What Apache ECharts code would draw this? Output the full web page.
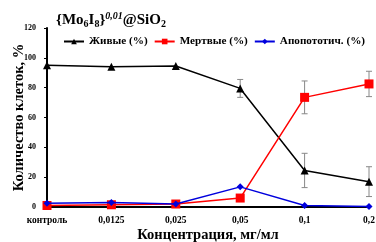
<!DOCTYPE html>
<html>
<head>
<meta charset="utf-8">
<script src="https://cdn.jsdelivr.net/npm/echarts@6/dist/echarts.min.js"></script>
<style>html,body{margin:0;padding:0;background:#fff}#c{width:376px;height:242px}</style>
</head>
<body>
<div id="c"></div>
<script>
var categories = ['контроль', '0,0125', '0,025', '0,05', '0,1', '0,2'];
var live = [95, 94, 94.5, 79.5, 24.5, 17];
var liveErr = [0, 0, 0, 6, 11.5, 10];
var dead = [1, 1.5, 2, 6, 73.5, 82.5];
var deadErr = [0, 0, 0, 0, 11, 8.5];
var apopt = [2.5, 3, 2, 13.5, 1, 0.3];
var yTicks = [0, 20, 40, 60, 80, 100, 120];

var chart = echarts.init(document.getElementById('c'));
var font = 'Liberation Serif';

// усы погрешностей
function errSeries(vals, errs) {
  var d = [];
  for (var i = 0; i < vals.length; i++) {
    if (errs[i] > 0) d.push([i, vals[i] - errs[i], vals[i] + errs[i]]);
  }
  return {
    type: 'custom',
    z: 1,
    silent: true,
    data: d,
    renderItem: function (params, api) {
      var lo = api.coord([api.value(0), api.value(1)]);
      var hi = api.coord([api.value(0), api.value(2)]);
      var w = 3;
      var st = { stroke: '#888', lineWidth: 1 };
      return {
        type: 'group',
        children: [
          { type: 'line', shape: { x1: lo[0], y1: lo[1], x2: hi[0], y2: hi[1] }, style: st },
          { type: 'line', shape: { x1: lo[0] - w, y1: lo[1], x2: lo[0] + w, y2: lo[1] }, style: st },
          { type: 'line', shape: { x1: hi[0] - w, y1: hi[1], x2: hi[0] + w, y2: hi[1] }, style: st }
        ]
      };
    }
  };
}

var option = {
  animation: false,
  textStyle: { fontFamily: font, fontWeight: 'bold', color: '#000' },
  title: {
    text: '{a|{Mo}{s|6}{a|I}{s|8}}{p|0,01}{a|@SiO}{s|2}',
    left: 51, top: 6,
    textStyle: {
      fontFamily: font, fontWeight: 'bold', fontSize: 15, color: '#000',
      rich: {
        a: { fontFamily: font, fontWeight: 'bold', fontSize: 15, color: '#000' },
        s: { fontFamily: font, fontWeight: 'bold', fontSize: 10, color: '#000', padding: [8, 0, 0, 0] },
        p: { fontFamily: font, fontWeight: 'bold', fontStyle: 'italic', fontSize: 10, color: '#000', padding: [0, 0, 8, 0] }
      }
    }
  },
  legend: {
    top: 31, left: 58, width: 330,
    itemWidth: 20, itemHeight: 7, itemGap: 6,
    textStyle: { fontFamily: font, fontWeight: 'bold', fontSize: 11.2, color: '#000' },
    data: ['Живые (%)', 'Мертвые (%)', 'Апопототич. (%)']
  },
  grid: { left: 47, right: 7, top: 28, bottom: 35, outerBoundsMode: 'none' },
  xAxis: {
    type: 'category',
    data: categories,
    boundaryGap: false,
    name: 'Концентрация, мг/мл',
    nameLocation: 'middle',
    nameGap: 21,
    nameMoveOverlap: false,
    nameTextStyle: { fontFamily: font, fontWeight: 'bold', fontSize: 14.5, color: '#000' },
    axisLine: { lineStyle: { color: '#000', width: 2 } },
    axisTick: { show: false },
    axisLabel: { fontFamily: font, fontWeight: 'bold', fontSize: 9.5, color: '#000', margin: 9 }
  },
  yAxis: {
    type: 'value',
    min: 0, max: 120, interval: 20,
    name: 'Количество клеток, %',
    nameLocation: 'middle',
    nameGap: 20,
    nameMoveOverlap: false,
    nameTextStyle: { fontFamily: font, fontWeight: 'bold', fontSize: 14.5, color: '#000' },
    axisLine: { show: true, lineStyle: { color: '#000', width: 2 } },
    axisTick: { show: true, length: 3, lineStyle: { color: '#000' } },
    splitLine: { show: false },
    axisLabel: {
      fontFamily: font, fontWeight: 'bold', fontSize: 8, color: '#000', margin: 11,
      formatter: function (v) { return yTicks.indexOf(v) >= 0 ? String(v) : ''; }
    }
  },
  series: [
    errSeries(live, liveErr),
    errSeries(dead, deadErr),
    {
      name: 'Живые (%)', type: 'line', data: live, z: 3,
      symbol: 'triangle', symbolSize: 8,
      lineStyle: { color: '#000', width: 1.5 },
      itemStyle: { color: '#000' }
    },
    {
      name: 'Мертвые (%)', type: 'line', data: dead, z: 3,
      symbol: 'rect', symbolSize: 9,
      lineStyle: { color: '#ff0000', width: 1.5 },
      itemStyle: { color: '#ff0000' }
    },
    {
      name: 'Апопототич. (%)', type: 'line', data: apopt, z: 4,
      symbol: 'diamond', symbolSize: 7,
      lineStyle: { color: '#0000dd', width: 1.5 },
      itemStyle: { color: '#0000dd' }
    }
  ]
};
chart.setOption(option);
</script>
</body>
</html>
